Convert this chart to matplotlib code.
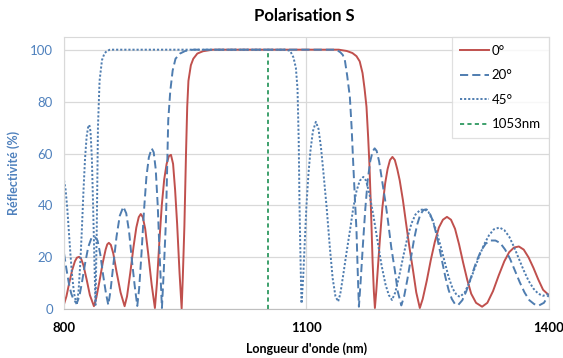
import matplotlib
matplotlib.use('Agg')
import matplotlib.pyplot as plt

# courbes (longueur d'onde nm, reflectivite %)
wl_0 = [800, 803, 806, 810, 813.5, 816, 818.6, 821, 824, 828, 832, 837,
        840, 844, 848, 851.5, 853.5, 855.5, 858, 861, 865, 870, 875,
        878, 882, 886, 889.5, 892.5, 895, 897.5, 900.5, 904, 908.5, 912.5,
        915, 918, 921, 924, 927, 929.8, 932.4, 935, 937.5, 940, 943, 945.6,
        947, 949, 951, 952.5, 954, 957, 960, 965, 972, 984,
        1140, 1150, 1157, 1162, 1166, 1169.5, 1172, 1174.4, 1176.5, 1178, 1180, 1182, 1183.5, 1184.8,
        1186.5, 1188.5, 1191, 1194, 1197.5, 1200.5, 1203.5, 1206.5, 1209.5, 1212.5, 1215.5, 1219.5,
        1223, 1227.5, 1232, 1236, 1240.4,
        1244, 1249, 1254, 1259, 1264, 1269, 1274, 1279, 1284, 1289, 1294, 1299, 1304, 1310, 1317.5,
        1324, 1331, 1338, 1345, 1351, 1357, 1363, 1369, 1375, 1381, 1387, 1393, 1400]
r_0 = [2, 5, 9.5, 15, 18.5, 19.9, 20.2, 19.6, 17, 11.5, 5.5, 1.2,
       4.5, 11, 18, 23, 25, 25.6, 24.8, 21.5, 14.5, 6.5, 1.2,
       5, 14, 24, 31.5, 35.5, 36.7, 35.5, 31, 22, 9.5, 0.5,
       10, 26, 40, 50, 56, 59, 59.5, 56, 46, 33, 14, 0.3,
       12, 32, 60, 78, 88, 94, 96.5, 98.5, 99.4, 100,
       100, 99.5, 98.7, 97.5, 95.5, 91, 85, 78, 66, 56, 38, 18, 7, 0.5,
       7, 16, 27, 39, 48.5, 54, 57.5, 58.7, 57.5, 54, 49.7, 42,
       34, 24, 15, 6.5, 0.5,
       4, 11, 19, 26, 31.5, 34.5, 35.6, 34.5, 31, 25, 18, 11.5, 6, 2.5, 1,
       2.5, 7, 13, 18.5, 22, 23.8, 24.2, 23, 20, 16, 11.5, 7.5, 5.5]

wl_20 = [800, 803, 806, 809, 812.5, 816,
         819, 822, 826, 830, 834, 838, 841.5, 845, 848.5, 852, 854.8,
         857.5, 861, 865, 869, 873.4, 877, 880.5, 884, 887.5, 890.7,
         893, 896, 899, 902, 905, 908.5, 911, 913.5, 916, 918.5, 921.2,
         923.5, 926.2, 929, 931.5, 934.5, 938, 943.5, 950, 960,
         1137, 1142, 1145, 1147.6, 1150.5, 1153.8, 1156, 1158, 1160, 1162, 1163.5, 1165,
         1167, 1170, 1173, 1176, 1179, 1182, 1184.5, 1187, 1190, 1194, 1198, 1201, 1205, 1209.5, 1213, 1217.5,
         1221, 1225, 1229, 1233, 1237, 1241, 1245, 1248.6, 1252, 1256, 1260, 1264, 1268, 1272, 1276, 1280, 1284, 1288,
         1293, 1298, 1304, 1310, 1316, 1322, 1328, 1334, 1340, 1346, 1352, 1358, 1364, 1370, 1376, 1382, 1388, 1394, 1400]
r_20 = [21.5, 15.5, 10, 6, 3.2, 2.5,
        5, 10, 17.5, 24, 27.5, 28, 26.5, 21, 13, 6, 1.7,
        7, 17, 28, 36, 39.5, 37, 30, 19, 9, 1.3,
        8, 22, 38, 51, 58.5, 62, 60.5, 54, 40, 20, 0.5,
        15, 34.3, 72.8, 84, 92, 96.5, 98.5, 99.5, 100,
        100, 99, 98, 96, 90, 81.8, 70, 56, 43, 30.5, 15, 1,
        10, 25, 39, 50, 57, 60.8, 62, 61, 57, 49, 41, 34, 24, 15, 7, 1.5,
        5, 11.5, 19, 26.5, 32.5, 36.5, 38.3, 38.5, 37.5, 34.5, 30, 24.5, 18.5, 12.5, 7.5, 4, 2, 1.7,
        3.5, 7, 12.5, 18, 22.5, 25.3, 26.5, 26.5, 25.5, 23, 19.5, 15, 10.5, 6.5, 3.5, 2, 1.5, 2.5, 5.5]

wl_45 = [800, 802, 804, 806, 808, 810, 812.5, 815.7,
         818, 820, 822, 824, 826, 828, 830, 831.3, 832.8, 834.5, 836, 837.5, 839,
         840.5, 842, 844, 847, 850, 853, 857,
         1075, 1080, 1084, 1087, 1089, 1090.5, 1091.5, 1093, 1094,
         1096, 1098, 1100, 1102.5, 1105, 1108, 1111.7, 1115, 1118, 1121, 1125, 1129, 1132.5, 1136, 1139.3,
         1142, 1145.5, 1149.5, 1154, 1158, 1162, 1166, 1170.5, 1174, 1178, 1183, 1188, 1193, 1198, 1202, 1206,
         1210, 1215, 1220, 1225, 1230, 1235, 1241, 1246, 1251, 1256, 1261, 1266, 1271, 1276, 1281, 1286, 1290,
         1296, 1302, 1308, 1314, 1320, 1326, 1332, 1339, 1345, 1351, 1357, 1363, 1369, 1375, 1381, 1387, 1393, 1400]
r_45 = [49.7, 46, 39, 30, 21, 13, 6, 1.7,
        7, 17, 30, 45, 58, 66.5, 70.5, 71, 68.5, 58, 40, 20, 1.7,
        30, 70, 88, 96, 98.5, 99.5, 100,
        100, 99.5, 97, 93, 85, 65, 40, 15, 2.3,
        12, 26, 39.5, 52, 61, 68.5, 72.2, 69.5, 62.5, 53, 39.5, 24, 12, 5, 3,
        6, 13, 21.5, 30.5, 39, 45.5, 49.5, 51, 49.5, 44.5, 36, 26.5, 17, 9.5, 5.5, 3.6,
        6.5, 13, 20.5, 27.5, 33, 36.5, 38.3, 38.5, 37.5, 34.5, 30, 24.5, 18.5, 12.5, 8, 5.5, 4.8,
        6.5, 10.5, 15.5, 20.5, 25, 28.5, 30.8, 31.5, 30.5, 28, 24, 19.5, 15, 11, 8, 6, 5.2, 6]

wl_laser = 1053
labels = ['0°', '20°', '45°', '1053nm']

plt.rcParams['font.family'] = ['Lato', 'DejaVu Sans']

fig = plt.figure(figsize=(5.63, 3.58), dpi=100)
ax = fig.add_axes([0.1137, 0.136, 0.861, 0.7615])

red = '#C0504D'
blue = '#4F7DB0'
green = '#2E9960'
lab_blue = '#4F81BD'

ax.plot(wl_0, r_0, color=red, lw=1.4, label=labels[0])
ax.plot(wl_20, r_20, color=blue, lw=1.4, dashes=(4.2, 2.1), label=labels[1])
ax.plot(wl_45, r_45, color=blue, lw=1.4, dashes=(1.1, 1.0), label=labels[2])
ax.plot([wl_laser, wl_laser], [0, 100], color=green, lw=1.3, dashes=(2.3, 1.8), label=labels[3])

ax.set_xlim(800, 1400)
ax.set_ylim(0, 105)
ax.set_xticks([800, 1100, 1400])
ax.set_yticks([0, 20, 40, 60, 80, 100])
ax.grid(True, color='#D9D9D9', lw=0.9)
ax.set_axisbelow(True)
ax.tick_params(length=0)
ax.tick_params(axis='y', labelcolor=lab_blue, labelsize=9.5, pad=8)
ax.tick_params(axis='x', labelsize=9.5, pad=9)
for lbl in ax.get_xticklabels():
    lbl.set_fontweight('bold')
for s in ax.spines.values():
    s.set_color('#D9D9D9')
ax.spines['bottom'].set_color('#BFBFBF')

ax.set_xlabel("Longueur d'onde (nm)", fontsize=9, fontweight='bold', labelpad=6)
ax.set_ylabel("Réflectivité (%)", fontsize=9, fontweight='bold', color=lab_blue, labelpad=7)
fig.text(0.54, 0.955, 'Polarisation S', fontsize=12, fontweight='bold', ha='center', va='center')

leg = ax.legend(loc='upper right', bbox_to_anchor=(1.0, 1.0), fontsize=9.5, frameon=True,
                fancybox=False, edgecolor='#D9D9D9', handlelength=2.2, handletextpad=0.2,
                labelspacing=0.95, borderpad=0.6, borderaxespad=0)
leg.get_frame().set_linewidth(0.9)

plt.savefig('out.png', dpi=100)
